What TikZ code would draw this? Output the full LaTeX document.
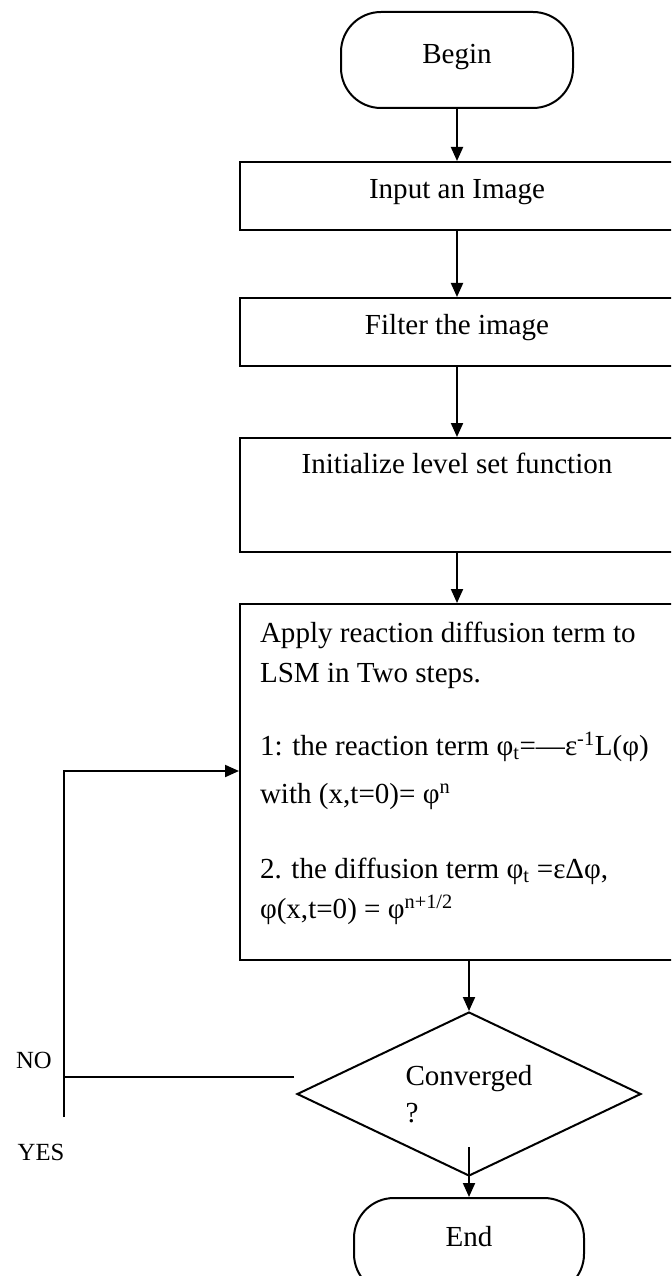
\documentclass[tikz,border=0pt]{standalone}
\usepackage{fontspec}
\setmainfont{Liberation Serif}
\usetikzlibrary{shapes.geometric,arrows.meta}

\begin{document}
\begin{tikzpicture}[x=0.75pt, y=-0.75pt,
  txt/.style={font=\fontsize{21.8}{30}\selectfont},
  term/.style={txt, draw, line width=1.5pt, rounded corners=30pt, minimum width=174pt, minimum height=72pt, text height=15pt},
  proc/.style={txt, draw, line width=1.5pt, minimum width=325.5pt, minimum height=51pt},
  shortbox/.style={proc, text height=15pt, text depth=11pt},
  arr/.style={-{Triangle[width=9pt,length=10.5pt]}, line width=1.5pt},
  lbl/.style={font=\fontsize{18.5}{22}\selectfont}]
  \useasboundingbox (0,0) rectangle (671,1276);
  \clip (0,0) rectangle (671,1276);

  % Main column
  \node[term, text depth=9.5pt] (start) at (457,60) {Begin};
  \node[shortbox] (input) at (457,196) {Input an Image};
  \node[shortbox] (filter) at (457,332) {Filter the image};
  \node[proc, text height=15pt, text depth=48pt, inner ysep=11.25pt] (init) at (457,495)
    {Initialize level set function};
  \node[proc, inner xsep=15pt, inner ysep=6pt] (apply) at (457,782)
    {\parbox[t][255pt][t]{295.5pt}{\vspace*{7.5pt}\raggedright
      Apply reaction diffusion term to\\
      LSM in Two steps.\\[24.75pt]
      1: the reaction term φ\textsubscript{t}=—ε\textsuperscript{-1}L(φ)\\[6pt]
      with (x,t=0)= φ\textsuperscript{n}\\[26.25pt]
      2. the diffusion term φ\textsubscript{t} =εΔφ,\\
      φ(x,t=0) = φ\textsuperscript{n+1/2}}};

  % Decision and end
  \node[diamond, aspect=2.1, draw, line width=1.5pt, minimum width=258pt, minimum height=123pt,
    inner sep=0pt, align=left, font=\fontsize{21.8}{27.75}\selectfont] (conv) at (469,1094)
    {Converged\\?};
  \node[term, minimum width=172.5pt, text depth=15pt] (stop) at (469,1246) {End};

  % Arrows down the column
  \draw[arr] (start) -- (input);
  \draw[arr] (input) -- (filter);
  \draw[arr] (filter) -- (init);
  \draw[arr] (init) -- (apply);
  \draw[arr] (apply.south -| conv.north) -- (conv.north);
  \coordinate (convout) at (469,1147);
  \draw[arr] (convout) -- (stop);

  % Loop back
  \coordinate (noend) at (294,1077);
  \coordinate (loopbot) at (64,1117);
  \coordinate (looptop) at (64,771);
  \draw[line width=1.5pt] (noend) -- (noend -| loopbot);
  \draw[arr] (loopbot) -- (looptop) -- (looptop -| apply.west);
  \node[lbl] (nolbl) at (34,1060) {NO};
  \node[lbl] (yeslbl) at (41,1152) {YES};

\end{tikzpicture}
\end{document}
